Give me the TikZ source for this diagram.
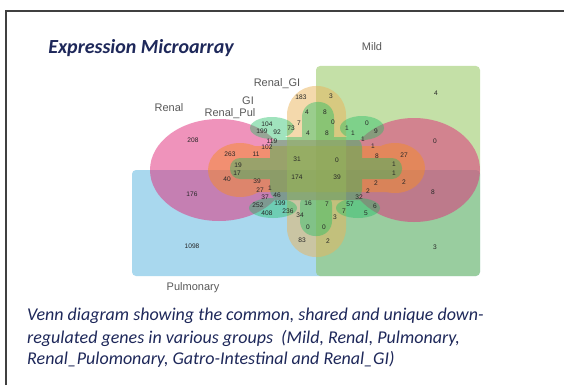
\documentclass[tikz,border=0pt]{standalone}
\usepackage{fontspec}
\setmainfont{Carlito}
\newfontfamily\labelfont{Liberation Sans}
\usepackage{tikz}

\definecolor{pulcol}{RGB}{85,179,223}
\definecolor{mildcol}{RGB}{139,195,81}
\definecolor{renalcol}{RGB}{225,40,120}
\definecolor{rpulcol}{RGB}{245,140,40}
\definecolor{rgicol}{RGB}{235,180,90}
\definecolor{gicol}{RGB}{30,190,100}
\definecolor{titlecol}{RGB}{30,40,90}

\tikzset{
  setfill/.style={fill=#1, fill opacity=0.5, draw=none},
  num/.style={font=\labelfont\fontsize{6.6}{8}\selectfont, text=black!85, inner sep=0pt},
  setlabel/.style={font=\labelfont\fontsize{11}{12}\selectfont, text=black!65, inner sep=0pt, anchor=base},
  captext/.style={font=\itshape\fontsize{18}{20}\selectfont, text=titlecol, inner sep=0pt, anchor=base west},
}

\begin{document}
\begin{tikzpicture}[x=1pt,y=-1pt]
\useasboundingbox (0,0) rectangle (564,385);
\fill[white] (0,0) rectangle (564,385);
\draw[line width=1.5pt, black!75] (6,385) -- (6,11) -- (564,11); % khung

% hai tap hinh chu nhat
\fill[setfill=pulcol, rounded corners=4] (132,170) rectangle (480,276);
\fill[setfill=mildcol, rounded corners=4] (316,66) rectangle (480,276);

% Renal
\begin{scope}[transparency group, opacity=0.5]
\fill[renalcol] (219,170) ellipse[x radius=69, y radius=51];
\fill[renalcol] (414,170) ellipse[x radius=66, y radius=52];
\fill[renalcol] (219,140) rectangle (414,200);
\end{scope}

% Renal_Pul
\begin{scope}[transparency group, opacity=0.5]
\fill[rpulcol] (240,170) ellipse[x radius=32, y radius=27];
\fill[rpulcol] (395,168) ellipse[x radius=30, y radius=25];
\fill[rpulcol] (240,146) rectangle (395,192);
\end{scope}

% Renal_GI
\fill[setfill=rgicol, rounded corners=29] (287,86) rectangle (346,257);

% GI
\begin{scope}[transparency group, opacity=0.42]
\fill[gicol, rounded corners=10] (270,137) rectangle (362,200);
\fill[gicol, rounded corners=10] (230,158) rectangle (402,179);
\fill[gicol, rounded corners=15] (302,102) rectangle (334,150);
\fill[gicol, rounded corners=15] (300,190) rectangle (332,236);
\fill[gicol] (272,128) ellipse[x radius=22, y radius=11];
\fill[gicol] (362,128) ellipse[x radius=22, y radius=12];
\fill[gicol] (273,208) ellipse[x radius=24, y radius=10];
\fill[gicol] (358,208) ellipse[x radius=22, y radius=10];
\end{scope}

% ten cac tap
\node[setlabel] (mild) at (372,51) {Mild};
\node[setlabel] (renal) at (169,111) {Renal};
\node[setlabel] (gi) at (248,105) {GI};
\node[setlabel] (renalpul) at (230,117) {Renal\_Pul};
\node[setlabel] (renalgi) at (277,87) {Renal\_GI};
\node[setlabel] (pulmonary) at (193,290) {Pulmonary};

% so luong gen trong tung vung
\foreach \v/\x/\y [count=\i] in {
  208/193/140, 176/192/194, 1098/192/246, 4/436/93, 0/435/141, 8/433/192, 3/435/247,
  183/301/97, 3/331/96, 4/307/112, 8/325/112, 4/308/133, 8/327/133,
  104/267/124, 199/262/131, 92/277/132, 73/291/128, 7/299/123,
  0/333/122, 1/347/128, 1/353/133, 0/367/123, 9/376/131, 1/363/139,
  119/272/141, 102/267/147, 263/230/154, 11/256/154, 31/297/159, 0/337/160,
  1/373/146, 8/377/156, 27/404/155, 1/394/164, 19/238/165, 17/237/173,
  1/394/173, 174/297/177, 39/337/177, 40/227/179, 39/257/181, 2/376/183,
  2/404/182, 27/260/190, 1/270/188, 2/368/191, 37/265/197, 46/277/195,
  32/359/197, 252/258/205, 199/280/203, 16/308/203, 7/327/204, 57/350/204,
  6/375/206, 408/267/213, 236/288/211, 34/300/215, 7/344/211, 3/335/217,
  5/366/213, 0/308/227, 0/324/227, 83/302/240, 2/328/241}
  \node[num] (n\i) at (\x,\y) {\v};

% tieu de va chu thich
\node[font=\bfseries\itshape\fontsize{20}{22}\selectfont, text=titlecol, inner sep=0pt, anchor=base] (title) at (141,54) {Expression Microarray};
\node[captext] (cap1) at (27,320) {Venn diagram showing the common, shared and unique down-};
\node[captext] (cap2) at (27,343) {regulated genes in various groups~ (Mild, Renal, Pulmonary,};
\node[captext] (cap3) at (27,364) {Renal\_Pulomonary, Gatro-Intestinal and Renal\_GI)};
\end{tikzpicture}
\end{document}
